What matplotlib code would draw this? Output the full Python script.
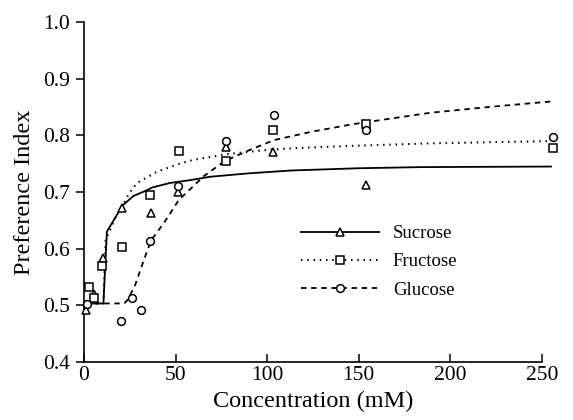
import matplotlib

matplotlib.use("Agg")
import matplotlib.pyplot as plt

# measured points (concentration mM, preference index)
suc_x = [1.0, 5.3, 10.2, 20.6, 36.4, 51.6, 77.5, 103.3, 154.0]
suc_y = [0.492, 0.52, 0.583, 0.672, 0.662, 0.700, 0.780, 0.771, 0.712]
fru_x = [3.0, 5.6, 10.0, 20.6, 36.0, 51.8, 77.6, 103.0, 154.0, 256.0]
fru_y = [0.532, 0.512, 0.570, 0.602, 0.694, 0.773, 0.754, 0.810, 0.820, 0.778]
glu_x = [1.4, 20.4, 26.0, 31.3, 35.8, 51.3, 77.3, 103.6, 154.0, 256.0]
glu_y = [0.502, 0.472, 0.512, 0.492, 0.613, 0.711, 0.790, 0.836, 0.809, 0.798]

# fitted curves
suc_fit_x = [0, 10.6, 12.5, 21, 27, 33.6, 37.3, 47, 58, 69, 90, 113, 150, 184, 255]
suc_fit_y = [0.503, 0.503, 0.630, 0.676, 0.693, 0.702, 0.708, 0.716, 0.721, 0.727,
             0.733, 0.738, 0.742, 0.744, 0.745]
fru_fit_x = [0, 10.6, 11.8, 14.6, 17.3, 21.8, 24.5, 29, 40, 52, 60, 78, 102, 118, 150, 189, 254]
fru_fit_y = [0.503, 0.503, 0.615, 0.636, 0.656, 0.680, 0.697, 0.716, 0.736, 0.750, 0.757,
             0.767, 0.775, 0.778, 0.782, 0.786, 0.790]
glu_fit_x = [0, 22, 24, 28, 32.7, 36.7, 43.6, 51.8, 65.4, 77, 91, 104, 125, 147, 189, 220, 255]
glu_fit_y = [0.503, 0.503, 0.510, 0.536, 0.580, 0.615, 0.645, 0.686, 0.728, 0.755, 0.775,
             0.792, 0.807, 0.820, 0.840, 0.850, 0.860]

x_ticks = [0, 50, 100, 150, 200, 250]
y_ticks = [0.4, 0.5, 0.6, 0.7, 0.8, 0.9, 1.0]

plt.rcParams["font.family"] = ["Liberation Serif", "DejaVu Serif"]

fig = plt.figure(figsize=(5.73, 4.2), dpi=100)
ax = fig.add_axes([0.1466, 0.1388, 0.7989, 0.8081])

mk = dict(color="black", markerfacecolor="white", markeredgewidth=1.1, clip_on=False, zorder=4)
ax.plot(suc_fit_x, suc_fit_y, color="black", linewidth=1.3, linestyle="-", clip_on=False)
ax.plot(fru_fit_x, fru_fit_y, color="black", linewidth=1.5, linestyle=(0, (0.7, 2.3)), clip_on=False)
ax.plot(glu_fit_x, glu_fit_y, color="black", linewidth=1.3, linestyle=(0, (3.0, 2.6)), clip_on=False)
ax.plot(suc_x, suc_y, linestyle="none", marker="^", markersize=6.2, **mk)
ax.plot(fru_x, fru_y, linestyle="none", marker="s", markersize=6.2, **mk)
ax.plot(glu_x, glu_y, linestyle="none", marker="o", markersize=5.6, **mk)

# legend handles: line with the marker in the middle
h_suc, = ax.plot([], [], color="black", linewidth=1.3, linestyle="-", marker="^",
                 markersize=6.2, markerfacecolor="white", markeredgewidth=1.1)
h_fru, = ax.plot([], [], color="black", linewidth=1.5, linestyle=(0, (0.7, 2.3)), marker="s",
                 markersize=6.2, markerfacecolor="white", markeredgewidth=1.1)
h_glu, = ax.plot([], [], color="black", linewidth=1.3, linestyle=(0, (3.0, 2.6)), marker="o",
                 markersize=5.6, markerfacecolor="white", markeredgewidth=1.1)
ax.legend([h_suc, h_fru, h_glu], ["Sucrose", "Fructose", "Glucose"],
          loc="upper left", bbox_to_anchor=(301 / 573, 1 - 225 / 420),
          bbox_transform=fig.transFigure, frameon=False, numpoints=1,
          handlelength=4.15, handletextpad=0.75, labelspacing=0.6,
          borderpad=0, borderaxespad=0, fontsize=13.5)

ax.set_xlim(0, 250)
ax.set_ylim(0.4, 1.0)
ax.set_xticks(x_ticks)
ax.set_yticks(y_ticks)
ax.set_yticklabels([f"{v:.1f}" for v in y_ticks])
ax.tick_params(axis="x", direction="in", length=6, width=1.1, labelsize=15.5, pad=3)
ax.tick_params(axis="y", direction="out", length=6, width=1.1, labelsize=15.5, pad=4)
ax.spines["top"].set_visible(False)
ax.spines["right"].set_visible(False)
ax.spines["left"].set_linewidth(1.2)
ax.spines["bottom"].set_linewidth(1.2)
ax.set_xlabel("Concentration (mM)", fontsize=17.5, labelpad=4)
ax.set_ylabel("Preference Index", fontsize=17.5, labelpad=6)

fig.savefig("out.png", dpi=100)
